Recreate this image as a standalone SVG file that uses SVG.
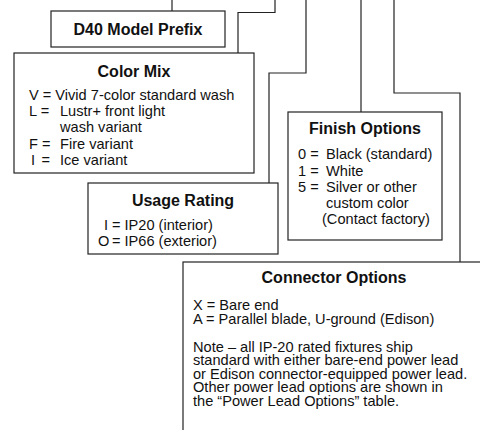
<svg xmlns="http://www.w3.org/2000/svg" width="480" height="430" viewBox="0 0 480 430">
<style>
.box{fill:#fff;stroke:#222;stroke-width:1.2}
.ln{fill:none;stroke:#222;stroke-width:1.2}
.t{font-family:"Liberation Sans",Arial,sans-serif;font-weight:bold;font-size:16px;fill:#111;text-anchor:middle}
.b{font-family:"Liberation Sans",Arial,sans-serif;font-size:14.6px;fill:#111}
</style>
<rect width="480" height="430" fill="#fff"/>
<g id="connectors">
<path class="ln" d="M172,0V11"/>
<path class="ln" d="M275,0V12.5H238V53"/>
<path class="ln" d="M306,0V73H269V183"/>
<path class="ln" d="M361,0V112"/>
<path class="ln" d="M394,0V93H460V262"/>
</g>
<g id="prefix">
<rect class="box" x="51" y="11" width="174" height="36"/>
<text class="t" x="138" y="34.5">D40 Model Prefix</text>
</g>
<g id="colormix">
<rect class="box" x="14" y="53" width="240" height="120"/>
<text class="t" x="134" y="77">Color Mix</text>
<text class="b" x="29" y="100">V = Vivid 7-color standard wash</text>
<text class="b" x="29" y="116">L =</text><text class="b" x="60" y="116">Lustr+ front light</text>
<text class="b" x="60" y="132">wash variant</text>
<text class="b" x="29" y="148.5">F =</text><text class="b" x="60" y="148.5">Fire variant</text>
<text class="b" x="31" y="165">I</text><text class="b" x="41.5" y="165">=</text><text class="b" x="60" y="165">Ice variant</text>
</g>
<g id="usage">
<rect class="box" x="88" y="183" width="190" height="71"/>
<text class="t" x="183" y="206">Usage Rating</text>
<text class="b" x="104" y="230">I</text><text class="b" x="112" y="230">=</text><text class="b" x="124.5" y="230">IP20 (interior)</text>
<text class="b" x="98" y="246">O</text><text class="b" x="112" y="246">=</text><text class="b" x="124.5" y="246">IP66 (exterior)</text>
</g>
<g id="finish">
<rect class="box" x="288" y="112" width="154" height="128"/>
<text class="t" x="365" y="134">Finish Options</text>
<text class="b" x="298" y="159">0 =</text><text class="b" x="326" y="159">Black (standard)</text>
<text class="b" x="298" y="175.5">1 =</text><text class="b" x="326" y="175.5">White</text>
<text class="b" x="298" y="192">5 =</text><text class="b" x="326" y="192">Silver or other</text>
<text class="b" x="326" y="208">custom color</text>
<text class="b" x="322" y="224">(Contact factory)</text>
</g>
<g id="connector">
<rect class="box" x="183" y="262" width="320" height="200"/>
<text class="t" x="334" y="283">Connector Options</text>
<text class="b" x="193" y="309.5">X = Bare end</text>
<text class="b" x="193" y="323.5">A = Parallel blade, U-ground (Edison)</text>
<text class="b" x="193" y="351.5">Note – all IP-20 rated fixtures ship</text>
<text class="b" x="193" y="365">standard with either bare-end power lead</text>
<text class="b" x="193" y="378.5">or Edison connector-equipped power lead.</text>
<text class="b" x="193" y="392">Other power lead options are shown in</text>
<text class="b" x="193" y="405.5">the “Power Lead Options” table.</text>
</g>
</svg>
